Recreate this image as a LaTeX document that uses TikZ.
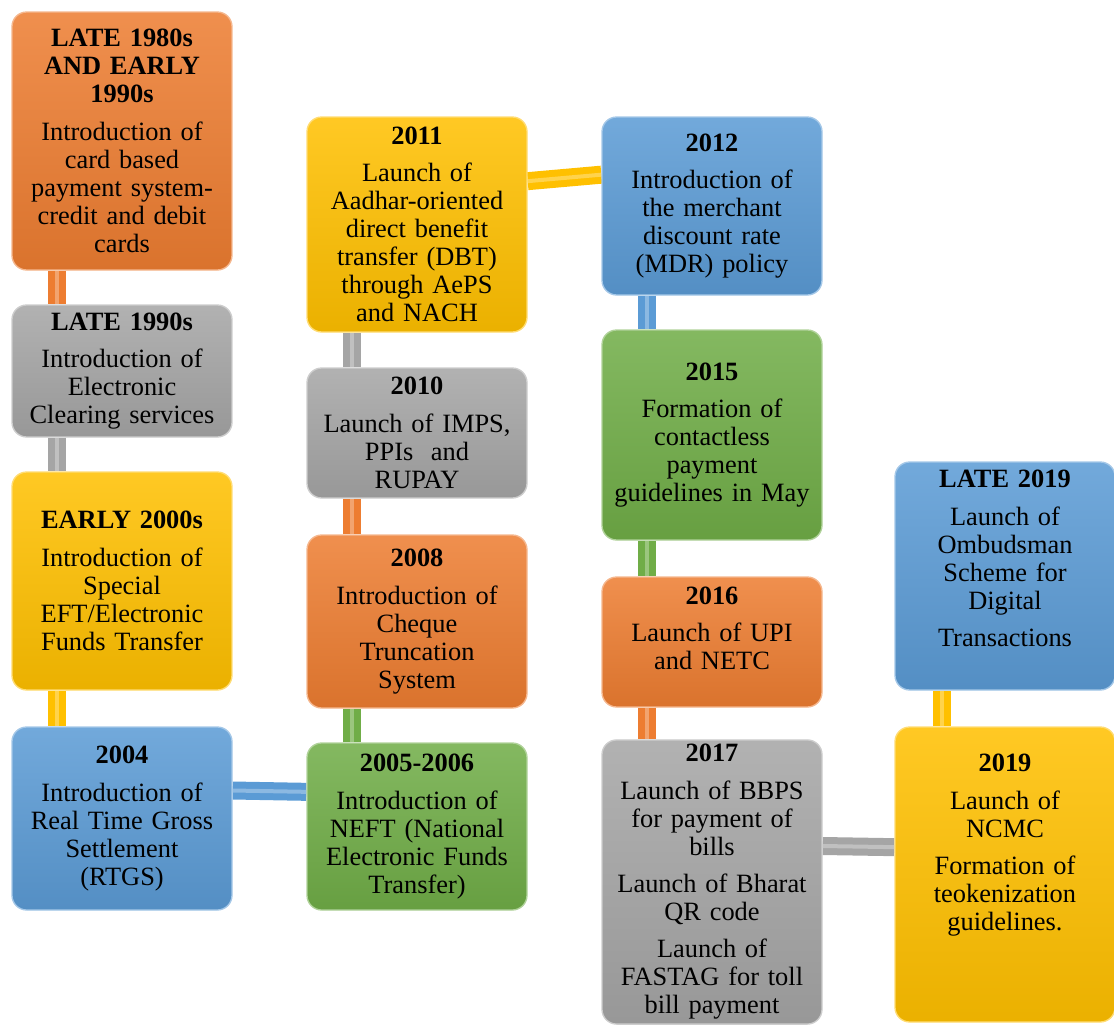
\documentclass[tikz,border=0pt]{standalone}
\usepackage{fontspec}
\setmainfont{Liberation Serif}
\usetikzlibrary{backgrounds}

\definecolor{orng}{HTML}{ED7D31}
\definecolor{gry}{HTML}{A5A5A5}
\definecolor{gld}{HTML}{FFC000}
\definecolor{blu}{HTML}{5B9BD5}
\definecolor{grn}{HTML}{70AD47}

\newcommand{\yr}[1]{{\bfseries #1\par}\vspace{7pt}}
\newcommand{\nxt}{\par\vspace{7pt}}
\newcommand{\tail}[1]{\par\vspace*{#1}\hrule height 0pt}

\tikzset{
  box/.style={rectangle, rounded corners=11pt, top color=#1!86!white, bottom color=#1!92!black,
    draw=#1!55!white, line width=1pt, minimum width=165pt, text width=150pt, inner xsep=7.5pt,
    align=center, font=\fontsize{19.8}{21}\selectfont},
  link/.style={draw=#1, line width=5.25pt, double=#1!70!white, double distance=3pt}
}

\begin{document}
\begin{tikzpicture}[x=0.75pt, y=-0.75pt]
  \useasboundingbox (0,0) rectangle (1114,1025);

  % first column
  \node[box=orng, minimum height=193.5pt] (b1) at (122,141)
    {\yr{LATE 1980s\\AND EARLY\\1990s}Introduction of\\card based\\payment system-\\credit and debit\\cards};
  \node[box=gry, minimum height=99pt] (b2) at (122,371)
    {\yr{LATE 1990s}Introduction of\\Electronic\\Clearing services};
  \node[box=gld, minimum height=163.5pt] (b3) at (122,581)
    {\yr{EARLY 2000s}Introduction of\\Special\\EFT/Electronic\\Funds Transfer};
  \node[box=blu, minimum height=137.25pt] (b4) at (122,818.5)
    {\yr{2004}Introduction of\\Real Time Gross\\Settlement\\(RTGS)};

  % second column
  \node[box=gld, minimum height=161.25pt] (c1) at (417,224.5)
    {\yr{2011}Launch of\\Aadhar-oriented\\direct benefit\\transfer (DBT)\\through AePS\\and NACH};
  \node[box=gry, minimum height=97.5pt] (c2) at (417,433)
    {\yr{2010}Launch of IMPS,\\PPIs\ \ and\\RUPAY};
  \node[box=orng, minimum height=129.75pt] (c3) at (417,621.5)
    {\yr{2008}Introduction of\\Cheque\\Truncation\\System};
  \node[box=grn, minimum height=125.25pt] (c4) at (417,826.5)
    {\yr{2005-2006}Introduction of\\NEFT (National\\Electronic Funds\\Transfer)};

  % third column
  \node[box=blu, minimum height=133.5pt] (d1) at (712,206)
    {\yr{2012}Introduction of\\the merchant\\discount rate\\(MDR) policy};
  \node[box=grn, minimum height=157.5pt] (d2) at (712,435)
    {\yr{2015}Formation of\\contactless\\payment\\guidelines in May};
  \node[box=orng, minimum height=97.5pt] (d3) at (712,642)
    {\yr{2016}Launch of UPI\\and NETC\tail{20pt}};
  \node[box=gry, minimum height=210pt] (d4) at (712,882)
    {\yr{2017}Launch of BBPS\\for payment of\\bills\nxt Launch of Bharat\\QR code\nxt Launch of\\FASTAG for toll\\bill payment};

  % fourth column
  \node[box=blu, minimum height=171pt, minimum width=162pt] (e1) at (1005,576)
    {\yr{LATE 2019}Launch of\\Ombudsman\\Scheme for\\Digital\nxt Transactions\tail{26pt}};
  \node[box=gld, minimum height=221.25pt, minimum width=162pt] (e2) at (1005,874.5)
    {\yr{2019}Launch of\\NCMC\nxt Formation of\\teokenization\\guidelines.\tail{44pt}};

  % connectors behind the boxes
  \begin{scope}[on background layer]
    \draw[link=orng] ([xshift=-48.75pt]b1.south) -- ([xshift=-48.75pt]b2.north);
    \draw[link=gry] ([xshift=-48.75pt]b2.south) -- ([xshift=-48.75pt]b3.north);
    \draw[link=gld] ([xshift=-48.75pt]b3.south) -- ([xshift=-48.75pt]b4.north);
    \draw[link=blu] ([yshift=21pt]b4.east) -- ([yshift=26pt]c4.west);
    \draw[link=grn] ([xshift=-48.75pt]c4.north) -- ([xshift=-48.75pt]c3.south);
    \draw[link=orng] ([xshift=-48.75pt]c3.north) -- ([xshift=-48.75pt]c2.south);
    \draw[link=gry] ([xshift=-48.75pt]c2.north) -- ([xshift=-48.75pt]c1.south);
    \draw[link=gld] ([yshift=32.5pt]c1.east) -- ([yshift=23.5pt]d1.west);
    \draw[link=blu] ([xshift=-48.75pt]d1.south) -- ([xshift=-48.75pt]d2.north);
    \draw[link=grn] ([xshift=-48.75pt]d2.south) -- ([xshift=-48.75pt]d3.north);
    \draw[link=orng] ([xshift=-48.75pt]d3.south) -- ([xshift=-48.75pt]d4.north);
    \draw[link=gry] ([yshift=27pt]d4.east) -- ([yshift=20.5pt]e2.west);
    \draw[link=gld] ([xshift=-47.25pt]e2.north) -- ([xshift=-47.25pt]e1.south);
  \end{scope}
\end{tikzpicture}
\end{document}
